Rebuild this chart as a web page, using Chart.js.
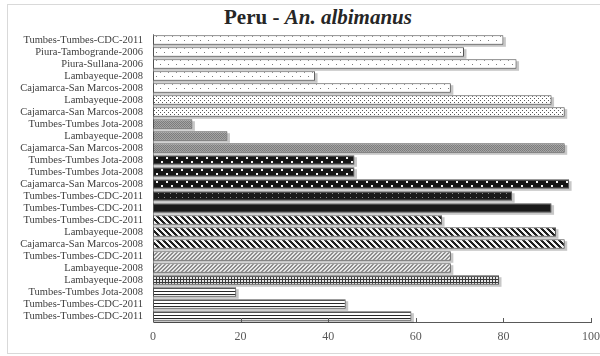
<!DOCTYPE html>
<html>
<head>
<meta charset="utf-8">
<script src="https://cdn.jsdelivr.net/npm/chart.js@4.4.0/dist/chart.umd.min.js"></script>
<style>
  html, body { margin: 0; padding: 0; background: #fff; }
  #wrap { position: relative; width: 600px; height: 356px; overflow: hidden; }
  #frame { position: absolute; left: 7px; top: 4px; width: 610px; height: 350px; border: 1px solid #d9d9d9; box-sizing: border-box; }
  #title { position: absolute; left: 0; width: 636px; top: 5px; text-align: center;
           font: bold 21px "Liberation Serif", "DejaVu Serif", serif; color: #262626; }
  canvas { position: absolute; left: 0; top: 0; }
</style>
</head>
<body>
<div id="wrap">
  <div id="frame"></div>
  <div id="title">Peru - <i>An. albimanus</i></div>
  <canvas id="chart" width="600" height="356"></canvas>
</div>
<script>
// ---- data (top to bottom as in the figure) ----
const populations = [
  'Tumbes-Tumbes-CDC-2011', 'Piura-Tambogrande-2006', 'Piura-Sullana-2006', 'Lambayeque-2008',
  'Cajamarca-San Marcos-2008', 'Lambayeque-2008', 'Cajamarca-San Marcos-2008', 'Tumbes-Tumbes Jota-2008',
  'Lambayeque-2008', 'Cajamarca-San Marcos-2008', 'Tumbes-Tumbes Jota-2008', 'Tumbes-Tumbes Jota-2008',
  'Cajamarca-San Marcos-2008', 'Tumbes-Tumbes-CDC-2011', 'Tumbes-Tumbes-CDC-2011', 'Tumbes-Tumbes-CDC-2011',
  'Lambayeque-2008', 'Cajamarca-San Marcos-2008', 'Tumbes-Tumbes-CDC-2011', 'Lambayeque-2008',
  'Lambayeque-2008', 'Tumbes-Tumbes Jota-2008', 'Tumbes-Tumbes-CDC-2011', 'Tumbes-Tumbes-CDC-2011'
];
const values = [80, 71, 83, 37, 68, 91, 94, 9, 17, 94, 46, 46, 95, 82, 91, 66, 92, 94, 68, 68, 79, 19, 44, 59];
const xTicks = [0, 20, 40, 60, 80, 100];

// fill style per bar (pattern names)
const barFills = [
  'dots5', 'dots5', 'dots5', 'dots5', 'dots5', 'dots20', 'dots20', 'grayCheck',
  'grayCheck', 'grayCheck', 'blackWhiteDots', 'blackWhiteDots', 'blackWhiteDots', 'blackSmallDots', 'black', 'darkDiag',
  'darkDiag', 'darkDiag', 'lightDiag', 'lightDiag', 'plaid', 'hStripes', 'hStripes', 'hStripes'
];

/** Build a canvas pattern from a per-pixel color function */
function makePattern(w, h, pixel) {
  const c = document.createElement('canvas');
  c.width = w; c.height = h;
  const g = c.getContext('2d');
  for (let y = 0; y < h; y++) {
    for (let x = 0; x < w; x++) {
      g.fillStyle = pixel(x, y);
      g.fillRect(x, y, 1, 1);
    }
  }
  return g.createPattern(c, 'repeat');
}

const PATTERNS = {
  dots5: makePattern(8, 8, (x, y) => ((x === 0 && y === 0) || (x === 4 && y === 4)) ? '#7a7a7a' : '#ffffff'),
  dots20: makePattern(4, 4, (x, y) => ((x === 0 && y === 0) || (x === 2 && y === 2)) ? '#555555' : '#ffffff'),
  grayCheck: makePattern(2, 2, (x, y) => ((x + y) % 2 === 0) ? '#7c7c7c' : '#a4a4a4'),
  blackWhiteDots: makePattern(10, 8, (x, y) =>
    ((x >= 1 && x <= 2 && y >= 1 && y <= 2) || (x >= 6 && x <= 7 && y >= 5 && y <= 6)) ? '#f4f4f4' : '#151515'),
  blackSmallDots: makePattern(6, 4, (x, y) => (x === 2 && y === 1) ? '#8a8a8a' : '#1a1a1a'),
  black: '#1a1a1a',
  darkDiag: makePattern(6, 6, (x, y) => (((x - y) % 6 + 6) % 6 < 3) ? '#1e1e1e' : '#f4f4f4'),
  lightDiag: makePattern(4, 4, (x, y) => ((x + y) % 4 < 2) ? '#8c8c8c' : '#e8e8e8'),
  plaid: makePattern(3, 3, (x, y) => (x === 0 || y === 0) ? '#3a3a3a' : '#e6e6e6'),
  hStripes: makePattern(1, 3, (x, y) => (y === 0) ? '#2a2a2a' : '#ffffff')
};

// soft shadow behind each bar
const barShadow = {
  id: 'barShadow',
  beforeDatasetsDraw(chart) {
    const ctx = chart.ctx;
    const meta = chart.getDatasetMeta(0);
    ctx.save();
    ctx.fillStyle = 'rgba(0,0,0,0.22)';
    meta.data.forEach(bar => {
      const p = bar.getProps(['x', 'y', 'base', 'height'], true);
      ctx.fillRect(p.base + 1, p.y - p.height / 2 + 2, p.x - p.base + 1.5, p.height);
    });
    ctx.restore();
  }
};

// tick marks drawn inward, on top of the bars
const innerTicks = {
  id: 'innerTicks',
  afterDatasetsDraw(chart) {
    const ctx = chart.ctx;
    const xs = chart.scales.x;
    const yb = chart.chartArea.bottom;
    ctx.save();
    ctx.strokeStyle = '#595959';
    ctx.lineWidth = 1;
    xTicks.forEach(v => {
      const px = Math.round(xs.getPixelForValue(v)) + 0.5;
      ctx.beginPath();
      ctx.moveTo(px, yb - 4);
      ctx.lineTo(px, yb);
      ctx.stroke();
    });
    ctx.restore();
  }
};

new Chart(document.getElementById('chart'), {
  type: 'bar',
  data: {
    labels: populations,
    datasets: [{
      data: values,
      backgroundColor: barFills.map(k => PATTERNS[k]),
      borderColor: '#505050',
      borderWidth: 1,
      borderSkipped: false,
      categoryPercentage: 1,
      barPercentage: 0.8
    }]
  },
  options: {
    indexAxis: 'y',
    responsive: false,
    animation: false,
    events: [],
    layout: { padding: { top: 34, right: 0, left: 0, bottom: 0 } },
    plugins: {
      legend: { display: false },
      tooltip: { enabled: false }
    },
    scales: {
      x: {
        min: 0,
        max: 100,
        afterBuildTicks: s => { s.ticks = xTicks.map(v => ({ value: v })); },
        afterFit: s => { s.height = 34; s.paddingRight = 9; s.paddingLeft = 0; },
        ticks: {
          color: '#595959',
          padding: 8,
          maxRotation: 0,
          font: { family: "'Liberation Serif', serif", size: 12 }
        },
        grid: { display: false, drawTicks: false },
        border: { display: true, color: '#595959', width: 1 }
      },
      y: {
        afterFit: s => { s.width = 153; },
        ticks: {
          color: '#404040',
          padding: 10,
          autoSkip: false,
          font: { family: "'Liberation Serif', serif", size: 10.5 }
        },
        grid: { display: false, drawTicks: false },
        border: { display: true, color: '#8c8c8c', width: 1 }
      }
    }
  },
  plugins: [barShadow, innerTicks]
});
</script>
</body>
</html>
